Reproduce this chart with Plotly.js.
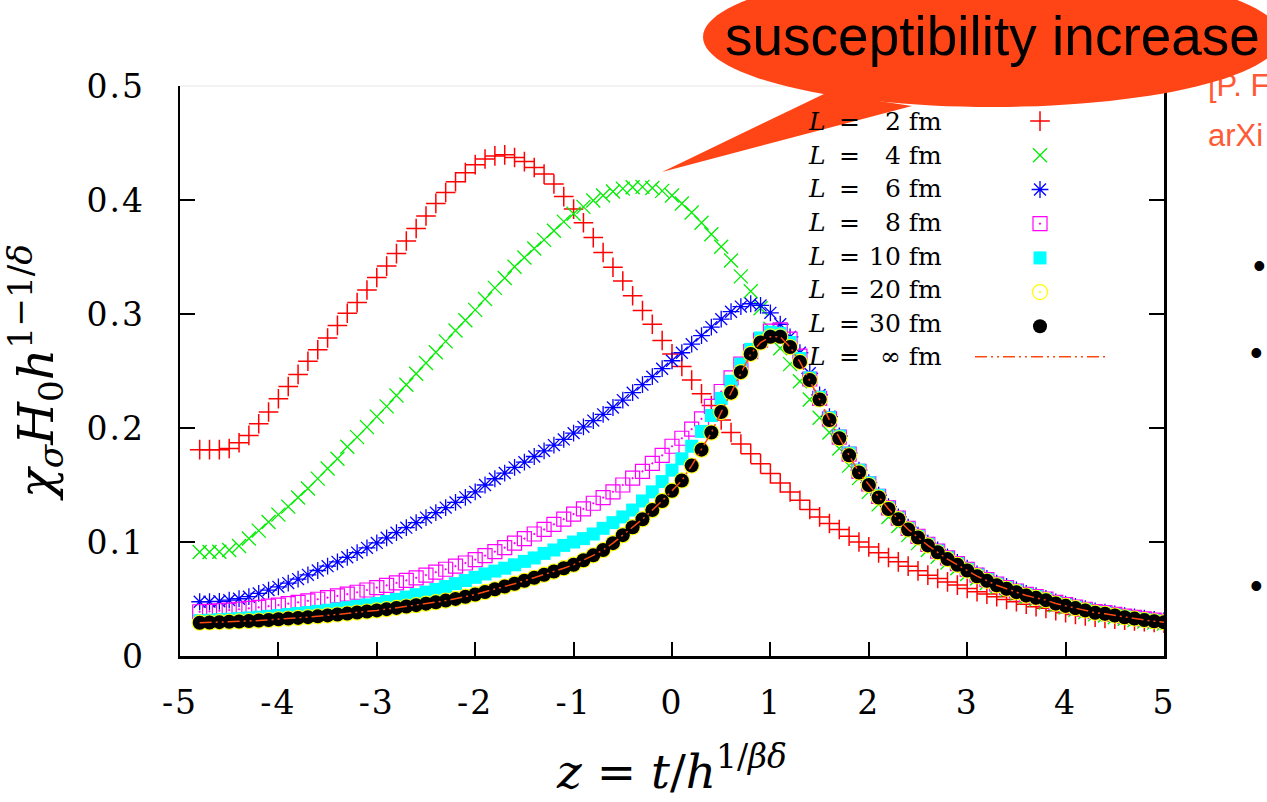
<!DOCTYPE html>
<html><head><meta charset="utf-8">
<script src="https://cdn.plot.ly/plotly-3.0.1.min.js"></script>
<style>
html,body{margin:0;padding:0;background:#fff;}
#chart{width:1267px;height:802px;}
.xtick text,.ytick text{letter-spacing:2px;}
</style></head><body><div id="chart"></div>
<script>
// ---- data ----
const zValues = [-4.8,-4.7,-4.6,-4.5,-4.4,-4.3,-4.2,-4.1,-4.0,
 -3.9,-3.8,-3.7,-3.6,-3.5,-3.4,-3.3,-3.2,-3.1,-3.0,
 -2.9,-2.8,-2.7,-2.6,-2.5,-2.4,-2.3,-2.2,-2.1,-2.0,
 -1.9,-1.8,-1.7,-1.6,-1.5,-1.4,-1.3,-1.2,-1.1,-1.0,
 -0.9,-0.8,-0.7,-0.6,-0.5,-0.4,-0.3,-0.2,-0.1,0.0,
 0.1,0.2,0.3,0.4,0.5,0.6,0.7,0.8,0.9,1.0,
 1.1,1.2,1.3,1.4,1.5,1.6,1.7,1.8,1.9,2.0,
 2.1,2.2,2.3,2.4,2.5,2.6,2.7,2.8,2.9,3.0,
 3.1,3.2,3.3,3.4,3.5,3.6,3.7,3.8,3.9,4.0,
 4.1,4.2,4.3,4.4,4.5,4.6,4.7,4.8,4.9,5.0];

const chiL2 = [0.1810,0.1810,0.1810,0.1820,0.1870,0.1935,0.2037,0.2140,0.2256,
 0.2364,0.2470,0.2586,0.2686,0.2790,0.2900,0.3006,0.3100,0.3210,0.3320,
 0.3420,0.3530,0.3640,0.3750,0.3860,0.3970,0.4066,0.4160,0.4240,0.4310,
 0.4360,0.4387,0.4396,0.4373,0.4337,0.4285,0.4227,0.4140,0.4030,0.3920,
 0.3800,0.3670,0.3540,0.3410,0.3290,0.3160,0.3030,0.2910,0.2767,0.2650,
 0.2540,0.2420,0.2300,0.2198,0.2070,0.1960,0.1860,0.1775,0.1687,0.1600,
 0.1518,0.1439,0.1366,0.1285,0.1220,0.1162,0.1110,0.1050,0.1000,0.0957,
 0.0905,0.0864,0.0826,0.0788,0.0747,0.0709,0.0680,0.0650,0.0622,0.0593,
 0.0563,0.0543,0.0520,0.0496,0.0476,0.0455,0.0432,0.0418,0.0397,0.0380,
 0.0365,0.0352,0.0340,0.0330,0.0322,0.0314,0.0307,0.0300,0.0294,0.0288];

const chiL4 = [0.0913,0.0913,0.0915,0.0930,0.0965,0.1030,0.1100,0.1176,0.1240,
 0.1310,0.1390,0.1470,0.1556,0.1644,0.1730,0.1835,0.1920,0.2008,0.2100,
 0.2190,0.2285,0.2380,0.2476,0.2570,0.2665,0.2760,0.2855,0.2945,0.3036,
 0.3131,0.3229,0.3316,0.3415,0.3495,0.3575,0.3650,0.3730,0.3810,0.3880,
 0.3940,0.3995,0.4040,0.4075,0.4100,0.4112,0.4115,0.4105,0.4080,0.4040,
 0.3970,0.3890,0.3800,0.3700,0.3590,0.3470,0.3330,0.3200,0.3050,0.2870,
 0.2700,0.2560,0.2410,0.2250,0.2090,0.1960,0.1820,0.1670,0.1560,0.1440,
 0.1330,0.1220,0.1140,0.1060,0.0990,0.0930,0.0870,0.0820,0.0770,0.0720,
 0.0680,0.0640,0.0605,0.0575,0.0545,0.0515,0.0495,0.0470,0.0445,0.0425,
 0.0405,0.0385,0.0365,0.0355,0.0340,0.0327,0.0315,0.0303,0.0293,0.0284];

const chiL6 = [0.0476,0.0477,0.0480,0.0490,0.0502,0.0520,0.0549,0.0578,0.0607,
 0.0640,0.0675,0.0712,0.0750,0.0788,0.0826,0.0866,0.0907,0.0949,0.0992,
 0.1037,0.1082,0.1126,0.1170,0.1214,0.1258,0.1302,0.1347,0.1392,0.1440,
 0.1500,0.1555,0.1605,0.1655,0.1700,0.1750,0.1800,0.1850,0.1900,0.1955,
 0.2010,0.2065,0.2120,0.2180,0.2245,0.2310,0.2380,0.2450,0.2520,0.2590,
 0.2660,0.2735,0.2810,0.2885,0.2955,0.3020,0.3065,0.3090,0.3075,0.3010,
 0.2910,0.2800,0.2660,0.2480,0.2290,0.2100,0.1930,0.1780,0.1630,0.1520,
 0.1410,0.1310,0.1220,0.1130,0.1060,0.0990,0.0930,0.0870,0.0820,0.0770,
 0.0720,0.0680,0.0640,0.0610,0.0580,0.0550,0.0530,0.0505,0.0475,0.0455,
 0.0435,0.0415,0.0395,0.0385,0.0370,0.0355,0.0343,0.0331,0.0320,0.0310];

const chiL8 = [0.0388,0.0392,0.0397,0.0403,0.0410,0.0418,0.0427,0.0437,0.0447,
 0.0459,0.0471,0.0484,0.0498,0.0512,0.0527,0.0543,0.0559,0.0579,0.0600,
 0.0620,0.0641,0.0663,0.0686,0.0710,0.0735,0.0761,0.0788,0.0816,0.0845,
 0.0880,0.0915,0.0950,0.0990,0.1030,0.1070,0.1110,0.1155,0.1200,0.1245,
 0.1290,0.1340,0.1390,0.1440,0.1500,0.1560,0.1620,0.1690,0.1760,0.1840,
 0.1910,0.1990,0.2080,0.2190,0.2320,0.2440,0.2560,0.2670,0.2770,0.2850,
 0.2860,0.2780,0.2630,0.2430,0.2260,0.2080,0.1920,0.1770,0.1620,0.1510,
 0.1400,0.1300,0.1210,0.1120,0.1050,0.0980,0.0920,0.0860,0.0810,0.0760,
 0.0710,0.0670,0.0630,0.0600,0.0570,0.0540,0.0520,0.0500,0.0470,0.0450,
 0.0430,0.0410,0.0390,0.0380,0.0365,0.0350,0.0338,0.0326,0.0315,0.0305];

const chiL10 = [0.0310,0.0314,0.0318,0.0323,0.0328,0.0334,0.0341,0.0348,0.0356,
 0.0364,0.0373,0.0382,0.0392,0.0402,0.0413,0.0424,0.0436,0.0448,0.0460,
 0.0478,0.0497,0.0517,0.0538,0.0560,0.0584,0.0609,0.0635,0.0662,0.0690,
 0.0720,0.0745,0.0770,0.0800,0.0830,0.0860,0.0900,0.0930,0.0970,0.1000,
 0.1030,0.1070,0.1120,0.1170,0.1220,0.1280,0.1360,0.1440,0.1530,0.1630,
 0.1730,0.1840,0.1970,0.2110,0.2260,0.2410,0.2560,0.2690,0.2790,0.2840,
 0.2830,0.2750,0.2610,0.2440,0.2270,0.2090,0.1930,0.1780,0.1630,0.1520,
 0.1410,0.1300,0.1210,0.1120,0.1050,0.0980,0.0920,0.0860,0.0810,0.0760,
 0.0710,0.0670,0.0630,0.0600,0.0570,0.0540,0.0520,0.0495,0.0465,0.0445,
 0.0425,0.0405,0.0385,0.0375,0.0360,0.0345,0.0333,0.0320,0.0309,0.0299];

const chiL20 = [0.0292,0.0294,0.0297,0.0300,0.0303,0.0307,0.0311,0.0316,0.0322,
 0.0328,0.0334,0.0341,0.0348,0.0356,0.0364,0.0372,0.0381,0.0390,0.0400,
 0.0411,0.0422,0.0434,0.0446,0.0459,0.0472,0.0486,0.0501,0.0520,0.0540,
 0.0562,0.0585,0.0609,0.0634,0.0660,0.0686,0.0713,0.0741,0.0770,0.0801,
 0.0840,0.0883,0.0930,0.0990,0.1060,0.1130,0.1200,0.1280,0.1360,0.1450,
 0.1540,0.1670,0.1810,0.1960,0.2140,0.2310,0.2490,0.2650,0.2750,0.2805,
 0.2805,0.2710,0.2580,0.2420,0.2250,0.2070,0.1910,0.1760,0.1610,0.1500,
 0.1390,0.1290,0.1200,0.1110,0.1040,0.0970,0.0910,0.0850,0.0800,0.0750,
 0.0700,0.0660,0.0620,0.0590,0.0560,0.0530,0.0510,0.0490,0.0460,0.0440,
 0.0420,0.0400,0.0380,0.0370,0.0355,0.0340,0.0328,0.0316,0.0305,0.0295];

const chiL30 = [0.0292,0.0294,0.0297,0.0300,0.0303,0.0307,0.0311,0.0316,0.0322,
 0.0328,0.0334,0.0341,0.0348,0.0356,0.0364,0.0372,0.0381,0.0390,0.0400,
 0.0411,0.0422,0.0434,0.0446,0.0459,0.0472,0.0486,0.0501,0.0520,0.0540,
 0.0562,0.0585,0.0609,0.0634,0.0660,0.0686,0.0713,0.0741,0.0770,0.0801,
 0.0840,0.0883,0.0930,0.0990,0.1060,0.1130,0.1200,0.1280,0.1360,0.1450,
 0.1540,0.1670,0.1810,0.1960,0.2140,0.2310,0.2490,0.2650,0.2750,0.2800,
 0.2800,0.2710,0.2580,0.2420,0.2250,0.2070,0.1910,0.1760,0.1610,0.1500,
 0.1390,0.1290,0.1200,0.1110,0.1040,0.0970,0.0910,0.0850,0.0800,0.0750,
 0.0700,0.0660,0.0620,0.0590,0.0560,0.0530,0.0510,0.0490,0.0460,0.0440,
 0.0420,0.0400,0.0380,0.0370,0.0355,0.0340,0.0328,0.0316,0.0305,0.0295];

const chiLinf = [0.0292,0.0294,0.0297,0.0300,0.0303,0.0307,0.0311,0.0316,0.0322,
 0.0328,0.0334,0.0341,0.0348,0.0356,0.0364,0.0372,0.0381,0.0390,0.0400,
 0.0411,0.0422,0.0434,0.0446,0.0459,0.0472,0.0486,0.0501,0.0520,0.0540,
 0.0562,0.0585,0.0609,0.0634,0.0660,0.0686,0.0713,0.0741,0.0770,0.0801,
 0.0840,0.0883,0.0930,0.0990,0.1060,0.1130,0.1200,0.1280,0.1360,0.1450,
 0.1540,0.1670,0.1810,0.1960,0.2140,0.2310,0.2490,0.2650,0.2750,0.2800,
 0.2800,0.2710,0.2580,0.2420,0.2250,0.2070,0.1910,0.1760,0.1610,0.1500,
 0.1390,0.1290,0.1200,0.1110,0.1040,0.0970,0.0910,0.0850,0.0800,0.0750,
 0.0700,0.0660,0.0620,0.0590,0.0560,0.0530,0.0510,0.0490,0.0460,0.0440,
 0.0420,0.0400,0.0380,0.0370,0.0355,0.0340,0.0328,0.0316,0.0305,0.0295];

const sizeLabels = ['2','4','6','8','10','20','30','\u221E'];
const seriesNames = sizeLabels.map(s => 'L = ' + s + ' fm');
const xTickVals = [-5,-4,-3,-2,-1,0,1,2,3,4,5];
const xTickText = ['-5','-4','-3','-2','-1','0','1','2','3','4','5'];
const yTickVals = [0,0.1,0.2,0.3,0.4,0.5];
const yTickText = ['0','0.1','0.2','0.3','0.4','0.5'];
const bubbleText = 'susceptibility increase';
const refLine1 = '[P. F';
const refLine2 = 'arXi';

// ---- geometry helpers (pixel -> paper) ----
const L0 = 180, R0 = 1164, T0 = 86, B0 = 656;
const px = x => (x - L0) / (R0 - L0);
const py = y => (B0 - y) / (B0 - T0);

const serif = 'DejaVu Serif, Liberation Serif, serif';
const sans = 'Liberation Sans, Arial, sans-serif';

function markerTrace(y, name, symbol, color, size, lw) {
  return {x: zValues, y: y, name: name, type: 'scatter', mode: 'markers',
    marker: {symbol: symbol, color: color, size: size, line: {color: color, width: lw}},
    hoverinfo: 'skip'};
}
const traces = [
  markerTrace(chiL2, seriesNames[0], 'cross-thin-open', '#ff0000', 14, 1.5),
  markerTrace(chiL4, seriesNames[1], 'x-thin-open', '#00ee00', 14, 1.3),
  markerTrace(chiL6, seriesNames[2], 'asterisk-open', '#0000ff', 14, 1.3),
  markerTrace(chiL8, seriesNames[3], 'square-open-dot', '#ff00ff', 14, 1.2),
  markerTrace(chiL10, seriesNames[4], 'square', '#00ffff', 13, 0),
  markerTrace(chiL20, seriesNames[5], 'circle-open-dot', '#ffff00', 15, 1.2),
  markerTrace(chiL30, seriesNames[6], 'circle', '#000000', 14, 0),
  {x: zValues, y: chiLinf, name: seriesNames[7], type: 'scatter', mode: 'lines',
   line: {color: '#ff4a10', width: 1.5, dash: '12px,4px,2px,4px,2px,4px'},
   showlegend: false, hoverinfo: 'skip'}
];

// legend text (gnuplot style: text left, sample right)
const annotations = [];
const rowY0 = 121.7, rowDY = 33.6;
sizeLabels.forEach((s, i) => {
  const yy = py(rowY0 + i * rowDY);
  annotations.push({xref:'paper', yref:'paper', x: px(806), y: yy, xanchor:'left', yanchor:'middle',
    text:'<i>L</i>', showarrow:false, font:{family: serif, size: 25, color:'#000'}});
  annotations.push({xref:'paper', yref:'paper', x: px(849), y: yy, xanchor:'center', yanchor:'middle',
    text:'=', showarrow:false, font:{family: serif, size: 25, color:'#000'}});
  annotations.push({xref:'paper', yref:'paper', x: px(944), y: yy, xanchor:'right', yanchor:'middle',
    text: s + ' fm', showarrow:false, font:{family: serif, size: 25, color:'#000'}});
});
annotations.push({xref:'paper', yref:'paper', x: px(992), y: py(36), xanchor:'center', yanchor:'middle',
  text: bubbleText, showarrow:false, font:{family: sans, size: 55, color:'#000'}});
[[1259,265],[1256,352],[1256,585]].forEach(p => annotations.push({xref:'paper', yref:'paper',
  x: px(p[0]), y: py(p[1]), xanchor:'center', yanchor:'middle', text:'\u2022', showarrow:false,
  font:{family: sans, size: 36, color:'#000'}}));

// speech bubble
function bubblePath() {
  const cx = 992, cy = 37, a = 289, b = 70, n = 120;
  let d = '';
  for (let k = 0; k <= n; k++) {
    const t = 2 * Math.PI * k / n;
    const X = cx + a * Math.cos(t), Y = cy + b * Math.sin(t);
    d += (k === 0 ? 'M' : 'L') + px(X).toFixed(5) + ',' + py(Y).toFixed(5);
  }
  return d + 'Z';
}
function tailPath() {
  const pts = [[662,172],[826,93],[912,106]];
  return pts.map((p, k) => (k ? 'L' : 'M') + px(p[0]).toFixed(5) + ',' + py(p[1]).toFixed(5)).join('') + 'Z';
}
const bubbleColor = '#ff4516';
const shapes = [
  {type:'line', xref:'paper', yref:'paper', x0:0, x1:1, y0:1, y1:1, line:{color:'#e6e6e6', width:1}, layer:'above'},
  {type:'line', xref:'paper', yref:'paper', x0:px(975), x1:px(1105), y0:py(356.7), y1:py(356.7),
   line:{color:'#ff4a10', width:1.5, dash:'12px,4px,2px,4px,2px,4px'}},
  {type:'rect', xref:'paper', yref:'paper', x0:px(1205), x1:px(1400), y0:py(98), y1:py(66),
   line:{width:0}, fillcolor:'rgba(0,0,0,0)', layer:'above',
   label:{text: refLine1, textposition:'middle left', padding:0, font:{family: sans, size: 31, color:'#ff5a36'}}},
  {type:'rect', xref:'paper', yref:'paper', x0:px(1205), x1:px(1400), y0:py(148), y1:py(116),
   line:{width:0}, fillcolor:'rgba(0,0,0,0)', layer:'above',
   label:{text: refLine2, textposition:'middle left', padding:0, font:{family: sans, size: 31, color:'#ff5a36'}}},
  {type:'path', xref:'paper', yref:'paper', path: tailPath(), fillcolor: bubbleColor, line:{width:0}, layer:'above'},
  {type:'path', xref:'paper', yref:'paper', path: bubblePath(), fillcolor: bubbleColor, line:{width:0}, layer:'above'}
];

const axisCommon = {showgrid:false, zeroline:false, showline:true, linecolor:'#000', linewidth:2.5,
  ticks:'inside', tickcolor:'#000', tickwidth:2, tickfont:{family: serif, size: 33, color:'#000'}};

const layout = {
  width: 1267, height: 802,
  margin: {l: L0, r: 1267 - R0, t: T0, b: 802 - B0, pad: 0},
  paper_bgcolor:'#fff', plot_bgcolor:'#fff',
  showlegend: true,
  legend: {x: px(1020), xanchor:'left', y: py(99), yanchor:'top', bgcolor:'rgba(0,0,0,0)',
    borderwidth:0, font:{family: serif, size: 24, color:'rgba(0,0,0,0)'}, itemwidth:30, tracegroupgap:0},
  xaxis: Object.assign({}, axisCommon, {range:[-5,5], tickmode:'array', tickvals:xTickVals, ticktext:xTickText,
    ticklen:14, mirror:false, ticklabelstandoff: 16,
    title:{text:'<i>z</i> = <i>t</i>/<i>h</i><sup>1/<i>\u03B2\u03B4</i></sup>', font:{family: serif, size: 47, color:'#000'}, standoff: 34}}),
  xaxis2: {overlaying:'x', matches:'x', anchor:'y', side:'top', showgrid:false, zeroline:false, showline:false,
    ticks:'inside', ticklen:14, tickwidth:2, tickcolor:'#000', showticklabels:false, tickmode:'array', tickvals:xTickVals, range:[-5,5]},
  yaxis: Object.assign({}, axisCommon, {range:[0,0.5], tickmode:'array', tickvals:yTickVals, ticktext:yTickText,
    ticklen:15, mirror:'ticks', ticklabelstandoff: 26,
    title:{text:'<i>\u03C7</i><sub><i>\u03C3</i></sub><i>H</i><sub>0</sub><i>h</i><sup>1\u22121/<i>\u03B4</i></sup>', font:{family: serif, size: 49, color:'#000'}, standoff: 20}}),
  annotations: annotations,
  shapes: shapes
};

Plotly.newPlot('chart', traces, layout, {displayModeBar:false, staticPlot:true});
</script></body></html>
